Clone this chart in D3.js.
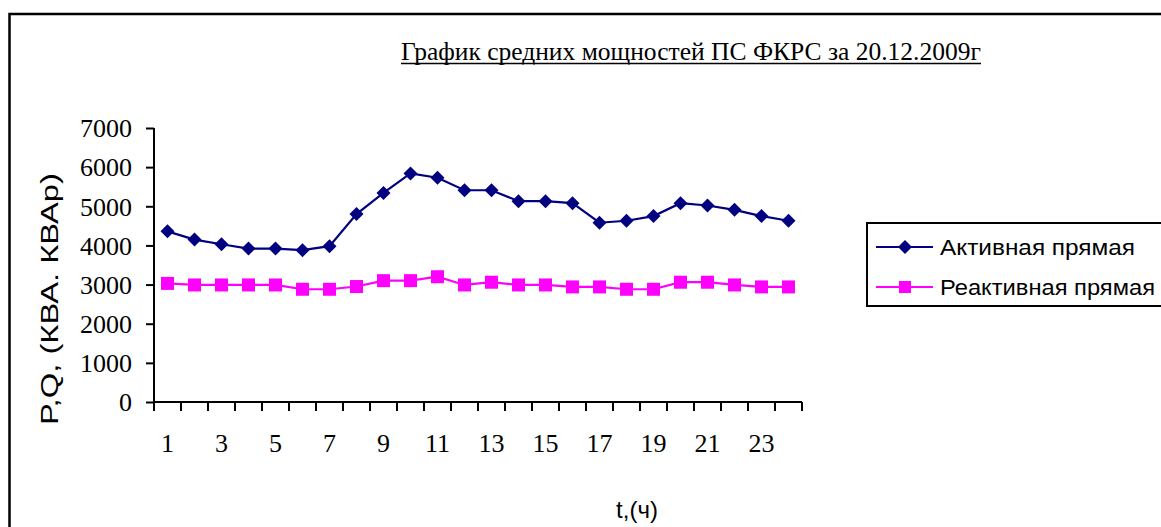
<!DOCTYPE html>
<html><head><meta charset="utf-8">
<script src="https://cdn.jsdelivr.net/npm/d3@7"></script>
<style>body{margin:0;background:#fff}svg{display:block}</style>
</head><body>
<script>
const hours = d3.range(1, 25);
const tickLabels = ["1","3","5","7","9","11","13","15","17","19","21","23"];
const activeValues = [4360,4150,4030,3920,3920,3880,3980,4800,5340,5840,5730,5410,5410,5130,5130,5080,4580,4630,4750,5080,5020,4910,4750,4630];
const reactiveValues = [3030,2990,2990,2990,2990,2880,2880,2950,3100,3100,3200,2990,3060,2990,2990,2940,2940,2880,2880,3060,3060,2990,2940,2940];
const seriesNames = ["Активная прямая","Реактивная прямая"];
const yTicks = [0,1000,2000,3000,4000,5000,6000,7000];
const titleText = "График средних мощностей ПС ФКРС за 20.12.2009г";
const yTitle = "P,Q, (КВА. КВАр)";
const xTitle = "t,(ч)";

const W = 1161, H = 527;
const svg = d3.select("body").append("svg").attr("width", W).attr("height", H);
svg.append("rect").attr("x",0).attr("y",0).attr("width",W).attr("height",H).attr("fill","#fff");

// outer frame (extends past right/bottom)
svg.append("rect").attr("x",9.5).attr("y",14).attr("width",W+20).attr("height",H+20)
  .attr("fill","none").attr("stroke","#000").attr("stroke-width",2.5);

const x = d3.scaleBand().domain(hours).range([154, 802]);
const y = d3.scaleLinear().domain([0,7000]).range([402,128]);

// title
svg.append("text").attr("x",401).attr("y",60).attr("font-family","Liberation Serif").attr("font-size",24.5)
  .attr("textLength",580).attr("lengthAdjust","spacingAndGlyphs").attr("fill","#000").text(titleText);
svg.append("line").attr("x1",401).attr("x2",981).attr("y1",63.5).attr("y2",63.5).attr("stroke","#000").attr("stroke-width",1.5);

// y axis
const yAxis = d3.axisLeft(y).tickValues(yTicks).tickSize(8).tickPadding(14).tickFormat(d3.format("d"));
const gy = svg.append("g").attr("transform","translate(154,0)").call(yAxis);
gy.select(".domain").attr("stroke-width",2).attr("d","M0,128V402");
gy.selectAll(".tick line").attr("stroke-width",2);
gy.selectAll("text").attr("font-family","Liberation Serif").attr("font-size",26).attr("fill","#000").attr("dy","0.34em");

// x axis
const xAxis = d3.axisBottom(x).tickSize(0).tickPadding(0).tickFormat(d => tickLabels.includes(String(d)) ? String(d) : "");
const gx = svg.append("g").attr("transform","translate(0,402)").call(xAxis);
gx.select(".domain").attr("stroke-width",2).attr("d","M154,0H802");
gx.selectAll(".tick text").attr("font-family","Liberation Serif").attr("font-size",26).attr("fill","#000").attr("dy",0).attr("y",50);
// tick marks between categories
const edges = hours.map(h => x(h)).concat([x(24)+x.bandwidth()]);
gx.selectAll(".edge").data(edges).enter().append("line").attr("class","edge")
  .attr("x1",d=>d).attr("x2",d=>d).attr("y1",0).attr("y2",9).attr("stroke","#000").attr("stroke-width",2);

const cx = h => x(h) + x.bandwidth()/2;
const line = d3.line().x((d,i)=>cx(hours[i])).y(d=>y(d));
const navy = "#000080", mag = "#FF00FF";

svg.append("path").datum(reactiveValues).attr("d",line).attr("fill","none").attr("stroke",mag).attr("stroke-width",2.2);
svg.append("path").datum(activeValues).attr("d",line).attr("fill","none").attr("stroke",navy).attr("stroke-width",2.2);

svg.selectAll(".sq").data(reactiveValues).enter().append("rect")
  .attr("x",(d,i)=>cx(hours[i])-6.5).attr("y",d=>y(d)-6.5).attr("width",13).attr("height",13).attr("fill",mag);
svg.selectAll(".dm").data(activeValues).enter().append("path")
  .attr("d",(d,i)=>{const px=cx(hours[i]),py=y(d);return `M${px},${py-7}L${px+7},${py}L${px},${py+7}L${px-7},${py}Z`;})
  .attr("fill",navy);

// axis titles
svg.append("text").attr("transform","translate(58,299) rotate(-90)").attr("text-anchor","middle")
  .attr("font-family","Liberation Sans").attr("font-size",23).attr("textLength",252).attr("lengthAdjust","spacingAndGlyphs")
  .attr("fill","#000").text(yTitle);
svg.append("text").attr("x",637).attr("y",518).attr("text-anchor","middle")
  .attr("font-family","Liberation Sans").attr("font-size",24).attr("fill","#000").text(xTitle);

// legend
svg.append("rect").attr("x",867).attr("y",223).attr("width",320).attr("height",83)
  .attr("fill","#fff").attr("stroke","#000").attr("stroke-width",2);
const legY = [247, 287];
const cols = [navy, mag];
legY.forEach((ly,i)=>{
  svg.append("line").attr("x1",876).attr("x2",933).attr("y1",ly).attr("y2",ly).attr("stroke",cols[i]).attr("stroke-width",2);
  if(i===0){
    svg.append("path").attr("d",`M905,${ly-7}L912,${ly}L905,${ly+7}L898,${ly}Z`).attr("fill",navy);
  } else {
    svg.append("rect").attr("x",899).attr("y",ly-6).attr("width",12).attr("height",12).attr("fill",mag);
  }
  svg.append("text").attr("x",940).attr("y",ly+8).attr("font-family","Liberation Sans").attr("font-size",22)
    .attr("textLength", i===0?195:215).attr("lengthAdjust","spacingAndGlyphs").attr("fill","#000").text(seriesNames[i]);
});
</script>
</body></html>
